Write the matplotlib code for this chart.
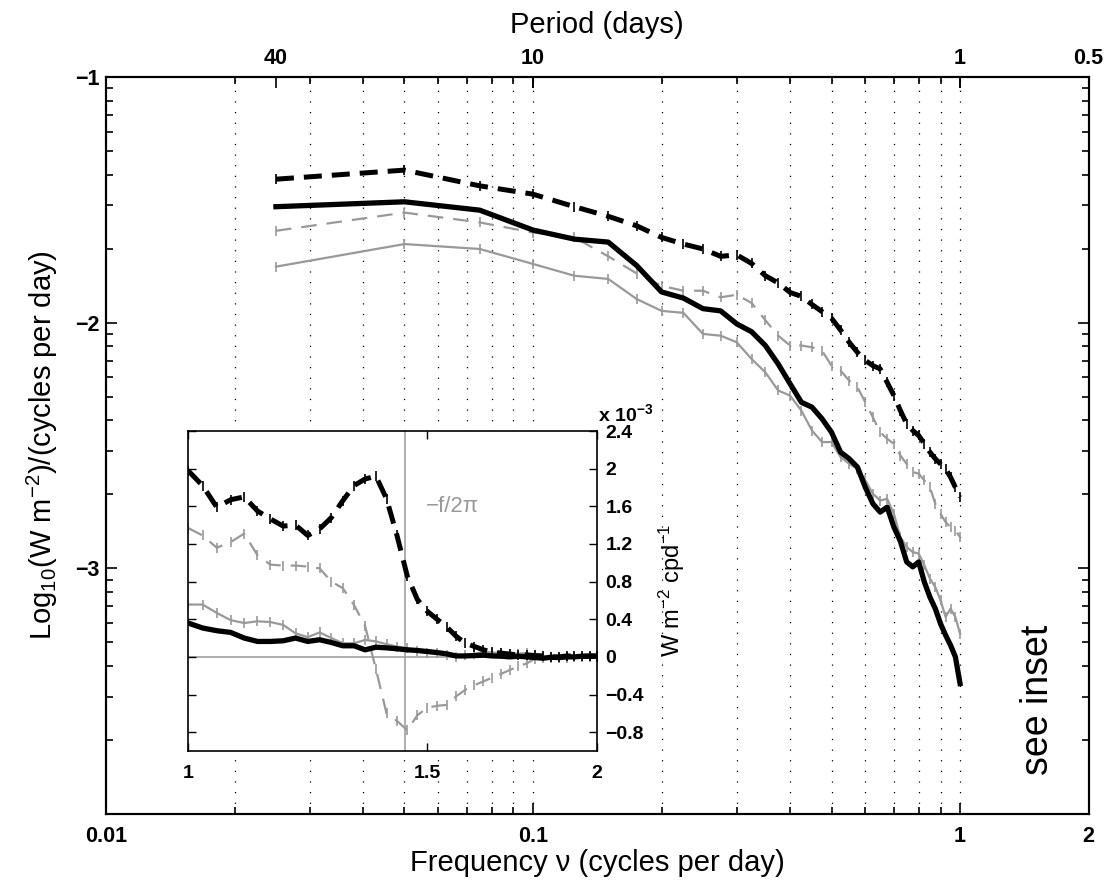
import math
import matplotlib
matplotlib.use('Agg')
import matplotlib.pyplot as plt
from matplotlib.ticker import FixedLocator, NullLocator, NullFormatter

plt.rcParams['font.family'] = ['Liberation Sans', 'DejaVu Sans']
plt.rcParams['mathtext.fontset'] = 'custom'
plt.rcParams['mathtext.rm'] = 'Liberation Sans'
plt.rcParams['mathtext.it'] = 'Liberation Sans:italic'
plt.rcParams['mathtext.bf'] = 'Liberation Sans:bold'

# ---- main spectrum, log10 values at 0.025 cpd spacing ----
freq = [0.025, 0.05, 0.075, 0.1, 0.125, 0.15, 0.175, 0.2, 0.225, 0.25,
        0.275, 0.3, 0.325, 0.35, 0.375, 0.4, 0.425, 0.45, 0.475, 0.5,
        0.525, 0.55, 0.575, 0.6, 0.625, 0.65, 0.675, 0.7, 0.725, 0.75,
        0.775, 0.8, 0.825, 0.85, 0.875, 0.9, 0.925, 0.95, 0.975, 1.0]

black_dash = [-1.416, -1.379, -1.443, -1.477, -1.528, -1.567, -1.606, -1.653, -1.68, -1.70,
              -1.73, -1.724, -1.759, -1.809, -1.838, -1.877, -1.893, -1.926, -1.955, -1.982,
              -2.03, -2.08, -2.121, -2.154, -2.175, -2.188, -2.243, -2.297, -2.358, -2.412,
              -2.439, -2.459, -2.493, -2.527, -2.554, -2.575, -2.595, -2.629, -2.67, -2.71]
black_solid = [-1.528, -1.508, -1.542, -1.623, -1.66, -1.672, -1.768, -1.875, -1.90, -1.943,
               -1.952, -2.005, -2.037, -2.093, -2.168, -2.249, -2.324, -2.344, -2.391, -2.446,
               -2.527, -2.554, -2.588, -2.67, -2.737, -2.771, -2.751, -2.832, -2.89, -2.974,
               -2.994, -2.974, -3.056, -3.117, -3.164, -3.225, -3.272, -3.313, -3.36, -3.469]
gray_dash = [-1.626, -1.552, -1.592, -1.633, -1.653, -1.73, -1.80, -1.85, -1.87, -1.87,
             -1.897, -1.886, -1.92, -1.99, -2.053, -2.093, -2.093, -2.10, -2.114, -2.175,
             -2.195, -2.236, -2.263, -2.324, -2.385, -2.446, -2.473, -2.493, -2.541, -2.575,
             -2.608, -2.615, -2.642, -2.67, -2.737, -2.778, -2.812, -2.832, -2.846, -2.873]
gray_solid = [-1.772, -1.68, -1.70, -1.761, -1.809, -1.822, -1.904, -1.952, -1.96, -2.046,
              -2.053, -2.08, -2.148, -2.202, -2.276, -2.297, -2.358, -2.439, -2.486, -2.486,
              -2.547, -2.575, -2.595, -2.642, -2.696, -2.724, -2.717, -2.778, -2.873, -2.913,
              -2.934, -2.94, -2.988, -3.042, -3.076, -3.13, -3.198, -3.164, -3.198, -3.266]

# ---- inset, linear values (x 1e-3) from 1 to 2 cpd ----
freq_in = [1.0, 1.025, 1.05, 1.075, 1.1, 1.125, 1.15, 1.175, 1.2, 1.225,
           1.25, 1.275, 1.3, 1.325, 1.35, 1.375, 1.4, 1.425, 1.45, 1.475,
           1.5, 1.525, 1.55, 1.575, 1.6, 1.625, 1.65, 1.675, 1.7, 1.725,
           1.75, 1.775, 1.8, 1.825, 1.85, 1.875, 1.9, 1.925, 1.95, 1.975, 2.0]

in_black_dash = [1.98, 1.82, 1.59, 1.67, 1.70, 1.55, 1.465, 1.39, 1.40, 1.29,
                 1.36, 1.48, 1.66, 1.82, 1.89, 1.92, 1.68, 1.29, 0.86, 0.61,
                 0.485, 0.40, 0.32, 0.22, 0.145, 0.11, 0.075, 0.05, 0.04, 0.03,
                 0.02, 0.02, 0.015, 0.01, 0.0, 0.0, 0.01, 0.01, 0.005, 0.005, 0.005]
in_black_solid = [0.36, 0.307, 0.278, 0.26, 0.20, 0.164, 0.164, 0.171, 0.20, 0.164,
                  0.182, 0.153, 0.118, 0.118, 0.075, 0.103, 0.096, 0.086, 0.075, 0.068,
                  0.057, 0.046, 0.032, 0.01, 0.01, 0.014, 0.018, 0.01, 0.007, 0.0,
                  0.007, 0.0, -0.007, -0.014, -0.004, -0.007, 0.0, 0.0, 0.007, 0.01, 0.01]
in_gray_dash = [1.37, 1.29, 1.16, 1.22, 1.31, 1.08, 0.98, 0.97, 0.97, 0.96,
                0.94, 0.80, 0.73, 0.55, 0.33, -0.13, -0.60, -0.68, -0.78, -0.62,
                -0.54, -0.52, -0.51, -0.42, -0.35, -0.30, -0.26, -0.22, -0.18, -0.14,
                -0.10, -0.07, -0.02, -0.01, 0.0, -0.01, 0.0, 0.0, 0.0, 0.0, 0.0]
in_gray_solid = [0.556, 0.556, 0.467, 0.39, 0.36, 0.378, 0.37, 0.34, 0.25, 0.21,
                 0.26, 0.20, 0.145, 0.145, 0.18, 0.165, 0.135, 0.11, 0.09, 0.065,
                 0.046, 0.036, 0.025, 0.0, 0.02, 0.03, 0.057, 0.046, 0.04, 0.03,
                 0.035, 0.04, 0.018, 0.0, -0.014, -0.014, -0.014, -0.005, 0.0, 0.0, 0.0]

inertial_freq = 1.444

grid_freqs = [0.02, 0.03, 0.04, 0.05, 0.06, 0.07, 0.08, 0.09, 0.1,
              0.2, 0.3, 0.4, 0.5, 0.6, 0.7, 0.8, 0.9, 1.0]
minor_x = [0.02, 0.03, 0.04, 0.05, 0.06, 0.07, 0.08, 0.09,
           0.2, 0.3, 0.4, 0.5, 0.6, 0.7, 0.8, 0.9]

W, H = 1112, 886
fig = plt.figure(figsize=(W / 100, H / 100), dpi=100)


def fx(px):
    return px / W


def fy(py):
    return 1 - py / H


GRAY = '0.6'
bd_style = dict(color='k', lw=3.6, ls=(0, (3.6, 2.0)), marker='|', ms=7, mew=1.2)
bs_style = dict(color='k', lw=3.8, ls='-')
gd_style = dict(color=GRAY, lw=1.6, ls=(0, (7, 4.5)), marker='|', ms=7, mew=1.2)
gs_style = dict(color=GRAY, lw=1.6, ls='-', marker='|', ms=7, mew=1.2)

ax = fig.add_axes([fx(106), fy(814), fx(1088.6 - 106), (814 - 77) / H])
ax.set_xscale('log')
ax.set_xlim(0.01, 2)
ax.set_ylim(-4, -1)

for g in grid_freqs:
    ax.axvline(g, color='k', lw=0.9, ls=(0, (1, 7.5)), zorder=0)

ax.plot(freq, gray_solid, **gs_style)
ax.plot(freq, gray_dash, **gd_style)
ax.plot(freq, black_solid, **bs_style)
ax.plot(freq, black_dash, **bd_style)

ax.set_xticks([0.01, 0.1, 1, 2])
ax.set_xticklabels(['0.01', '0.1', '1', '2'], fontweight='bold', fontsize=15.5)
ax.xaxis.set_minor_locator(FixedLocator(minor_x))
ax.xaxis.set_minor_formatter(NullFormatter())

ax.set_yticks([-4, -3, -2, -1])
ax.set_yticklabels(['', '\u22123', '\u22122', '\u22121'], fontweight='bold', fontsize=15.5)
ymin = []
for n in (-4, -3, -2):
    for k in range(2, 10):
        ymin.append(n + math.log10(k))
ax.yaxis.set_minor_locator(FixedLocator(ymin))
ax.yaxis.set_minor_formatter(NullFormatter())

# top period axis
ax2 = ax.twiny()
ax2.set_xscale('log')
ax2.set_xlim(0.01, 2)
ax2.set_xticks([0.025, 0.1, 1, 2])
ax2.set_xticklabels(['40', '10', '1', '0.5'], fontweight='bold', fontsize=15.5)
ax2.xaxis.set_minor_locator(NullLocator())
ax2.tick_params(axis='x', direction='in', length=8, width=1.2, pad=6)

ax.tick_params(which='both', direction='in', top=True, right=True, width=1.2)
ax.tick_params(which='major', length=8)
ax.tick_params(which='minor', length=5)
ax.tick_params(axis='x', pad=9)
ax.tick_params(axis='y', pad=4.5)
for a in (ax, ax2):
    for s in a.spines.values():
        s.set_linewidth(1.5)

fig.text(fx(597), fy(863), 'Frequency \u03bd (cycles per day)', fontsize=21,
         ha='center', va='center')
fig.text(fx(597), fy(25), 'Period (days)', fontsize=21, ha='center', va='center')
fig.text(fx(42), fy(445), r'Log$_{10}$(W m$^{-2}$)/(cycles per day)', fontsize=21,
         rotation=90, ha='center', va='center')
fig.text(fx(1038), fy(700), 'see inset', fontsize=27, rotation=90,
         ha='center', va='center')

# ---- inset ----
axi = fig.add_axes([fx(188), fy(751), fx(597 - 188), (751 - 431) / H])
axi.set_xscale('log')
axi.set_xlim(1, 2)
axi.set_ylim(-1.0, 2.4)
axi.axvline(inertial_freq, color=GRAY, lw=1.1, zorder=1)
axi.axhline(0, color=GRAY, lw=1.1, zorder=1)

axi.plot(freq_in, in_gray_solid, **gs_style)
axi.plot(freq_in, in_gray_dash, **gd_style)
axi.plot(freq_in, in_black_solid, **bs_style)
axi.plot(freq_in, in_black_dash, **bd_style)

axi.set_xticks([1, 1.5, 2])
axi.set_xticklabels(['1', '1.5', '2'], fontweight='bold', fontsize=14)
axi.xaxis.set_minor_locator(NullLocator())
yt = [-0.8, -0.4, 0, 0.4, 0.8, 1.2, 1.6, 2.0, 2.4]
ytl = ['\u22120.8', '\u22120.4', '0', '0.4', '0.8', '1.2', '1.6', '2', '2.4']
axi.set_yticks(yt)
axi.set_yticklabels(ytl, fontweight='bold', fontsize=14)
axi.tick_params(which='both', direction='in', top=True, left=True, right=True,
                labelleft=False, labelright=True, length=6, width=1.0)
axi.tick_params(axis='x', pad=10)
axi.tick_params(axis='y', pad=6)
for s in axi.spines.values():
    s.set_linewidth(1.2)

fig.text(fx(598), fy(421), r'x 10$^{\mathbf{-3}}$', fontweight='bold', fontsize=14,
         ha='left', va='baseline')
fig.text(fx(672), fy(590), r'W m$^{-2}$ cpd$^{-1}$', fontsize=17, rotation=90,
         ha='center', va='center')
fig.text(fx(452), fy(507), '\u2212f/2\u03c0', color=GRAY, fontsize=16,
         ha='center', va='center')

fig.savefig('out.png', dpi=100)
